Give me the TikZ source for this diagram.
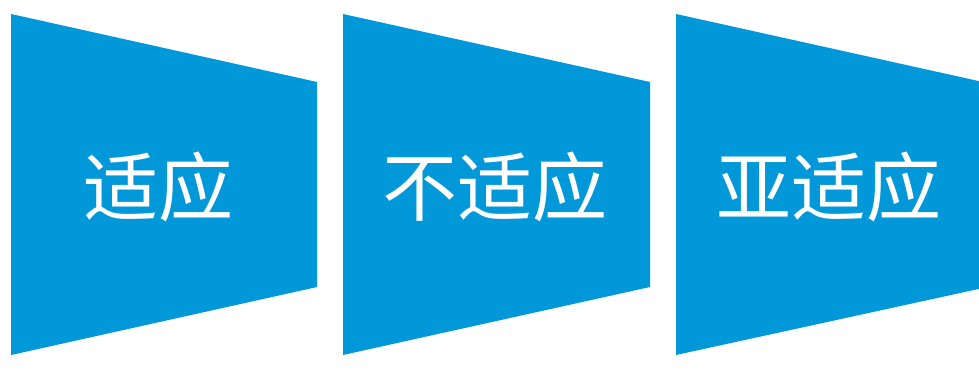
\documentclass[tikz,border=0pt]{standalone}
\usepackage{fontspec}
\newfontfamily\cjk{Noto Sans CJK SC}
\definecolor{trapblue}{RGB}{0,152,217}
\tikzset{
  trap/.style={fill=trapblue, draw=none},
  lbl/.style={text=white, font=\cjk\fontsize{75}{82}\selectfont, inner sep=0pt, anchor=center}
}
\begin{document}
\begin{tikzpicture}[x=1pt,y=-1pt]
\useasboundingbox (0,0) rectangle (979,385);
\begin{scope}
\clip (0,0) rectangle (979,385);
\fill[trap] (11,14) -- (317,82) -- (317,287) -- (11,355) -- cycle;
\fill[trap] (343,14) -- (650,82) -- (650,287) -- (343,355) -- cycle;
\fill[trap] (676,14) -- (983,82) -- (983,288) -- (676,355) -- cycle;
\end{scope}
\node[lbl] (t1) at (158,187) {适应};
\node[lbl] (t2) at (495,187) {不适应};
\node[lbl] (t3) at (829,187) {亚适应};
\end{tikzpicture}
\end{document}
